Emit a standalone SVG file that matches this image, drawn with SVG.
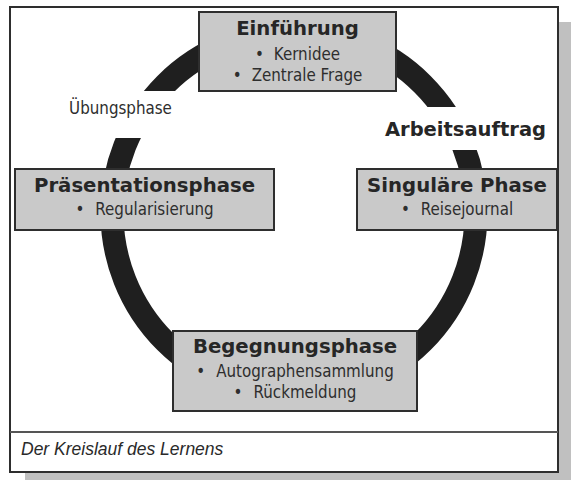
<svg xmlns="http://www.w3.org/2000/svg" width="571" height="480" viewBox="0 0 571 480">
<style>
.box{fill:#c9c9c9;stroke:#2e2e2e;stroke-width:2}
.title{font-family:"DejaVu Sans",Verdana,sans-serif;font-weight:bold;font-size:19.7px;fill:#262626;text-anchor:middle}
.item{font-family:"DejaVu Sans Condensed","DejaVu Sans",sans-serif;font-stretch:condensed;font-size:16.8px;fill:#2e2e2e;text-anchor:middle}
.lbl{font-family:"DejaVu Sans",Verdana,sans-serif;fill:#262626;text-anchor:middle}
</style>
<rect x="25" y="22" width="560" height="470" fill="#c0c0c0"/>
<rect x="10" y="7" width="548" height="465" fill="#ffffff" stroke="#2e2e2e" stroke-width="2"/>
<line x1="10" y1="432" x2="558" y2="432" stroke="#555" stroke-width="2"/>
<text x="21" y="455" font-family="Liberation Sans,Arial,sans-serif" font-style="italic" font-size="17.5" fill="#2a2a2a">Der Kreislauf des Lernens</text>
<g id="connectors">
<circle cx="294" cy="213" r="182" fill="none" stroke="#1f1f1f" stroke-width="23"/>
</g>
<g id="label-uebungsphase">
<rect x="60" y="91" width="130" height="47" fill="#ffffff"/>
<text class="item" x="120.5" y="114" style="text-anchor:middle">Übungsphase</text>
</g>
<g id="label-arbeitsauftrag">
<rect x="380" y="107" width="172" height="43" fill="#ffffff"/>
<text class="lbl" x="465.5" y="136" font-size="19.5" font-weight="bold">Arbeitsauftrag</text>
</g>
<g id="node-einfuehrung">
<rect class="box" x="199" y="12" width="197" height="79"/>
<text class="title" x="297.5" y="35">Einführung</text>
<text class="item" x="297.5" y="60"><tspan>•</tspan><tspan dx="10">Kernidee</tspan></text>
<text class="item" x="297.5" y="81"><tspan>•</tspan><tspan dx="10">Zentrale Frage</tspan></text>
</g>
<g id="node-praesentationsphase">
<rect class="box" x="15" y="169" width="259" height="61"/>
<text class="title" x="144.5" y="192">Präsentationsphase</text>
<text class="item" x="144.5" y="215"><tspan>•</tspan><tspan dx="11">Regularisierung</tspan></text>
</g>
<g id="node-singulaere-phase">
<rect class="box" x="357" y="169" width="200" height="61"/>
<text class="title" x="457" y="192">Singuläre Phase</text>
<text class="item" x="457" y="215"><tspan>•</tspan><tspan dx="11">Reisejournal</tspan></text>
</g>
<g id="node-begegnungsphase">
<rect class="box" x="173" y="331" width="244" height="80"/>
<text class="title" x="295" y="353">Begegnungsphase</text>
<text class="item" x="295" y="377"><tspan>•</tspan><tspan dx="11">Autographensammlung</tspan></text>
<text class="item" x="295" y="398"><tspan>•</tspan><tspan dx="11">Rückmeldung</tspan></text>
</g>
</svg>
